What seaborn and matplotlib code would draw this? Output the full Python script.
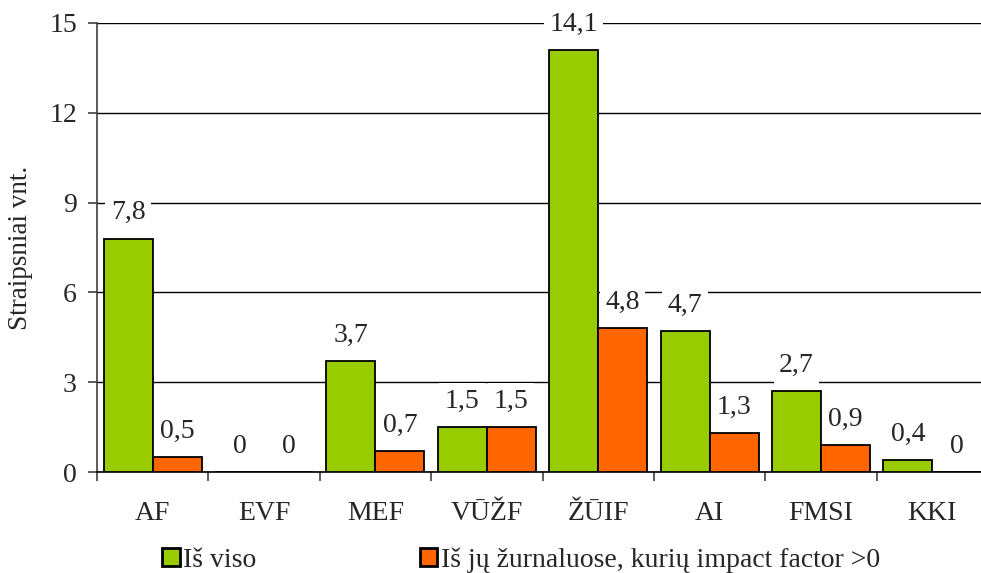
import numpy as np
import pandas as pd
import matplotlib
matplotlib.use("Agg")
import matplotlib.pyplot as plt
import matplotlib.patches as mpatches
import seaborn as sns

# data
fakultetai = ["AF", "EVF", "MEF", "VŪŽF", "ŽŪIF", "AI", "FMSI", "KKI"]
is_viso = [7.8, 0, 3.7, 1.5, 14.1, 4.7, 2.7, 0.4]
impact = [0.5, 0, 0.7, 1.5, 4.8, 1.3, 0.9, 0]
serijos = ["Iš viso", "Iš jų žurnaluose, kurių impact factor >0"]
spalvos = ["#99CC00", "#FF6600"]
y_ticks = [0, 3, 6, 9, 12, 15]

df = pd.DataFrame({
    "fak": fakultetai * 2,
    "val": is_viso + impact,
    "ser": [serijos[0]] * len(fakultetai) + [serijos[1]] * len(fakultetai),
})

sns.set_style("white")
plt.rcParams["font.family"] = ["Liberation Serif", "DejaVu Serif"]
fs = 20

fig = plt.figure(figsize=(9.81, 5.73), dpi=100)
# axes runs a bit past the right edge like in the original
ax = fig.add_axes([97 / 981, (573 - 472) / 573, 891 / 981, 449 / 573])

sns.barplot(data=df, x="fak", y="val", hue="ser", palette=spalvos,
            saturation=1, width=0.88, edgecolor="black", linewidth=1.3,
            legend=False, ax=ax, zorder=3)

ax.set_xlim(-0.5, 7.5)
ax.set_ylim(0, 15)
ax.set_yticks(y_ticks)
ax.set_axisbelow(True)
ax.yaxis.grid(True, color="black", lw=1.0)
ax.xaxis.grid(False)

for s in ["top", "right"]:
    ax.spines[s].set_visible(False)
ax.spines["left"].set_color("#404040")
ax.spines["left"].set_linewidth(1.2)
ax.spines["bottom"].set_color("black")
ax.spines["bottom"].set_linewidth(1.2)

# labels centred under groups, tick marks between groups
ax.set_xticks(np.arange(len(fakultetai)))
ax.set_xticklabels(fakultetai)
ax.set_xticks(np.arange(len(fakultetai) + 1) - 0.5, minor=True)
ax.tick_params(axis="x", which="major", length=0, pad=21, labelsize=fs)
ax.tick_params(axis="x", which="minor", length=6.5, width=1.2,
               color="#404040", direction="out", bottom=True)
ax.tick_params(axis="y", length=6.5, width=1.2, color="#404040",
               direction="out", left=True, pad=8, labelsize=fs)

ax.set_xlabel("")
ax.set_ylabel("Straipsniai vnt.", fontsize=19.5)
ax.yaxis.set_label_coords((33 - 97) / 891, 0.5)

for cont in ax.containers:
    vals = [b.get_height() for b in cont]
    labs = [f"{v:g}".replace(".", ",") for v in vals]
    ax.bar_label(cont, labels=labs, padding=9.5, fontsize=fs, zorder=5,
                 bbox=dict(boxstyle="square,pad=0.2", fc="white", ec="none"))

handles = [mpatches.Patch(facecolor=c, edgecolor="black", lw=2.0, label=l)
           for c, l in zip(spalvos, serijos)]
fig.legend(handles=handles, loc="center", bbox_to_anchor=(521 / 981, 1 - 560 / 573),
           ncol=2, frameon=False, fontsize=fs, handlelength=0.62, handleheight=0.62,
           handletextpad=0.12, columnspacing=5.9, borderpad=0)

fig.savefig("out.png", dpi=100)
